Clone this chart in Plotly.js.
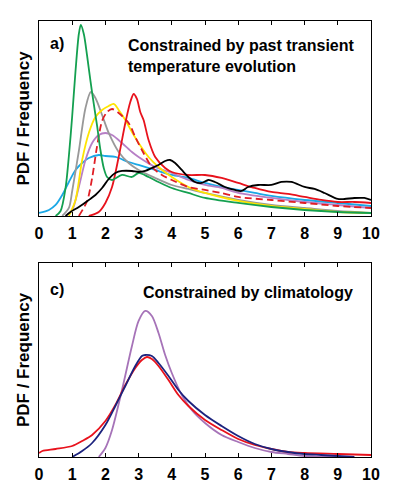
<!DOCTYPE html>
<html>
<head>
<meta charset="utf-8">
<script src="https://cdn.plot.ly/plotly-3.0.1.min.js"></script>
<style>html,body{margin:0;padding:0;background:#fff}#chart{width:398px;height:491px}</style>
</head>
<body>
<div id="chart"></div>
<script>
// ---- Panel a: constrained by past transient temperature evolution ----
var xGreenA = [0.5,0.65,0.8,0.9,1.0,1.1,1.2,1.26,1.35,1.45,1.55,1.65,1.75,1.85,1.95,2.05,2.2,2.5,2.8,3.0,3.3,3.6,4.0,4.5,5.0,6.0,7.0,8.0,9.0,10.0];
var yGreenA = [0,5,28,60,100,145,182,191,182,160,135,112,90,66,48,39,36,41,39,43,39,34,28,23,18,13,9,6,4,3];

var xGrayA = [0.7,0.9,1.0,1.2,1.4,1.56,1.7,1.9,2.1,2.4,2.7,3.0,3.5,4.0,4.5,5.0,6.0,7.0,8.0,9.0,10.0];
var yGrayA = [0,8,25,65,108,124,118,101,83,64,53,46,38,31,27,23,16,11,8,5,3];

var xYellowA = [0.9,1.1,1.3,1.5,1.7,1.9,2.1,2.25,2.4,2.6,2.8,3.0,3.3,3.6,4.0,4.5,5.0,6.0,7.0,8.0,9.0,10.0];
var yYellowA = [0,16,56,83,99,106,110,112,106,96,84,73,59,49,39,29,23,15,10,7,4,3];

var xRedDashA = [1.2,1.45,1.6,1.75,1.9,2.05,2.2,2.4,2.7,2.9,3.1,3.4,3.7,4.0,4.5,5.0,5.5,6.0,7.0,8.0,9.0,10.0];
var yRedDashA = [0,15,38,70,95,104,107,103,93,79,66,49,41,36,29,26,23,19,16,13,10,8];

var xRedA = [1.5,1.8,2.0,2.2,2.4,2.6,2.75,2.85,2.95,3.05,3.15,3.3,3.5,3.8,4.0,4.5,5.0,5.5,6.0,6.5,7.0,7.5,8.0,8.5,9.0,9.5,10.0];
var yRedA = [0,4,13,29,59,93,114,122,117,104,96,76,59,48,44,41,41,38,33,28,24,22,19,16,14,14,13];

var xPurpleA = [0.8,1.0,1.2,1.4,1.6,1.8,2.0,2.2,2.5,2.8,3.0,3.5,4.0,4.5,5.0,5.5,6.0,7.0,8.0,9.0,10.0];
var yPurpleA = [0,6,29,56,73,81,83,81,73,64,59,49,43,36,31,28,23,18,14,11,8];

var xCyanA = [0,0.3,0.5,0.7,0.9,1.1,1.3,1.5,1.8,2.0,2.3,2.7,3.0,3.5,4.0,4.5,5.0,5.5,6.0,6.5,7.0,8.0,9.0,10.0];
var yCyanA = [3,6,11,21,34,46,53,58,61,60,59,54,51,46,41,38,33,29,26,23,20,16,13,10];

var xBlackA = [0.8,0.95,1.2,1.5,1.7,1.9,2.1,2.3,2.5,2.8,3.0,3.2,3.4,3.6,3.8,3.95,4.1,4.3,4.5,4.7,4.9,5.1,5.3,5.6,5.9,6.1,6.3,6.6,7.0,7.3,7.6,8.0,8.3,8.6,9.0,9.2,9.5,9.8,10.0];
var yBlackA = [0,4,9,16,21,28,37,43,45,45,44,45,48,51,55,56,53,46,39,34,33,36,34,29,26,25,29,31,31,34,34,29,27,23,17,17,18,18,16];

// ---- Panel c: constrained by climatology ----
var xPurpleC = [1.8,2.0,2.2,2.5,2.8,3.0,3.2,3.4,3.6,3.8,4.0,4.3,4.6,5.0,5.5,6.0,6.5,7.0,7.5,8.0,9.0];
var yPurpleC = [0,9,27,67,111,136,146,141,124,102,84,62,47,34,22,15,9,5,3,1,0];

var xBlueC = [1.0,1.3,1.6,2.0,2.3,2.6,2.9,3.1,3.2,3.4,3.6,3.9,4.2,4.5,5.0,5.5,6.0,6.5,7.0,7.5,8.0,8.5,9.0,9.5];
var yBlueC = [0,6,14,32,51,71,91,101,102,101,94,81,67,56,42,31,21,13,8,5,3,2,1,0];

var xRedC = [0,0.1,0.5,1.0,1.3,1.6,2.0,2.3,2.6,2.9,3.1,3.25,3.4,3.6,3.9,4.2,4.5,5.0,5.5,6.0,6.5,7.0,7.5,8.0,9.0,10.0];
var yRedC = [4,6,8,11,16,22,36,52,72,89,97,100,98,91,77,62,51,37,27,18,12,8,5,4,3,2];

var xTicks = [0,1,2,3,4,5,6,7,8,9,10];

function tr(x, y, color, xa, ya, dash) {
  return {x: x, y: y, xaxis: xa, yaxis: ya, type: 'scatter', mode: 'lines',
    line: {color: color, width: 1.8, shape: 'spline', smoothing: 0.8, dash: dash || 'solid'},
    hoverinfo: 'skip', showlegend: false};
}

var data = [
  tr(xCyanA, yCyanA, '#1ba8e6', 'x', 'y'),
  tr(xPurpleA, yPurpleA, '#b77fc6', 'x', 'y'),
  tr(xGrayA, yGrayA, '#999999', 'x', 'y'),
  tr(xYellowA, yYellowA, '#ffe400', 'x', 'y'),
  tr(xRedDashA, yRedDashA, '#e01e25', 'x', 'y', '7px,4px'),
  tr(xRedA, yRedA, '#e8121c', 'x', 'y'),
  tr(xGreenA, yGreenA, '#14a050', 'x', 'y'),
  tr(xBlackA, yBlackA, '#000000', 'x', 'y'),
  tr(xPurpleC, yPurpleC, '#a673b8', 'x2', 'y2'),
  tr(xRedC, yRedC, '#e8121c', 'x2', 'y2'),
  tr(xBlueC, yBlueC, '#1c237e', 'x2', 'y2')
];

var fam = 'Liberation Sans, Arial, Helvetica, sans-serif';
function xax(anchor) {
  return {anchor: anchor, domain: [0, 1], range: [0, 10], tickvals: xTicks,
    ticktext: xTicks.map(String), ticks: 'inside', ticklen: 4, tickwidth: 1,
    tickcolor: '#000', showline: true, linecolor: '#000', linewidth: 1, mirror: 'ticks',
    showgrid: false, zeroline: false, ticklabelstandoff: 3,
    tickfont: {family: fam, size: 16, color: '#000', weight: 'bold'}};
}
function yax(anchor, dom, top) {
  return {anchor: anchor, domain: dom, range: [0, top], showticklabels: false, ticks: '',
    showline: true, linecolor: '#000', linewidth: 1, mirror: true,
    showgrid: false, zeroline: false,
    title: {text: 'PDF / Frequency', standoff: 4,
      font: {family: fam, size: 17, color: '#000', weight: 'bold'}}};
}

var annFont = {family: fam, size: 16, color: '#000', weight: 'bold'};
var layout = {
  width: 398, height: 491,
  margin: {l: 39, r: 27, t: 21, b: 34},
  paper_bgcolor: '#fff', plot_bgcolor: '#fff',
  xaxis: xax('y'),
  yaxis: yax('x', [0.5528, 1], 195),
  xaxis2: xax('y2'),
  yaxis2: yax('x2', [0, 0.445], 194),
  annotations: [
    {text: 'a)', xref: 'x domain', yref: 'y domain', x: 0.027, y: 0.94,
     xanchor: 'left', yanchor: 'top', showarrow: false, font: annFont},
    {text: 'Constrained by past transient<br>temperature evolution', xref: 'x domain', yref: 'y domain',
     x: 0.262, y: 0.93, xanchor: 'left', yanchor: 'top', align: 'left', showarrow: false, font: annFont},
    {text: 'c)', xref: 'x2 domain', yref: 'y2 domain', x: 0.027, y: 0.915,
     xanchor: 'left', yanchor: 'top', showarrow: false, font: annFont},
    {text: 'Constrained by climatology', xref: 'x2 domain', yref: 'y2 domain',
     x: 0.952, y: 0.9, xanchor: 'right', yanchor: 'top', showarrow: false, font: annFont}
  ]
};

Plotly.newPlot('chart', data, layout, {staticPlot: true, displayModeBar: false});
</script>
</body>
</html>
